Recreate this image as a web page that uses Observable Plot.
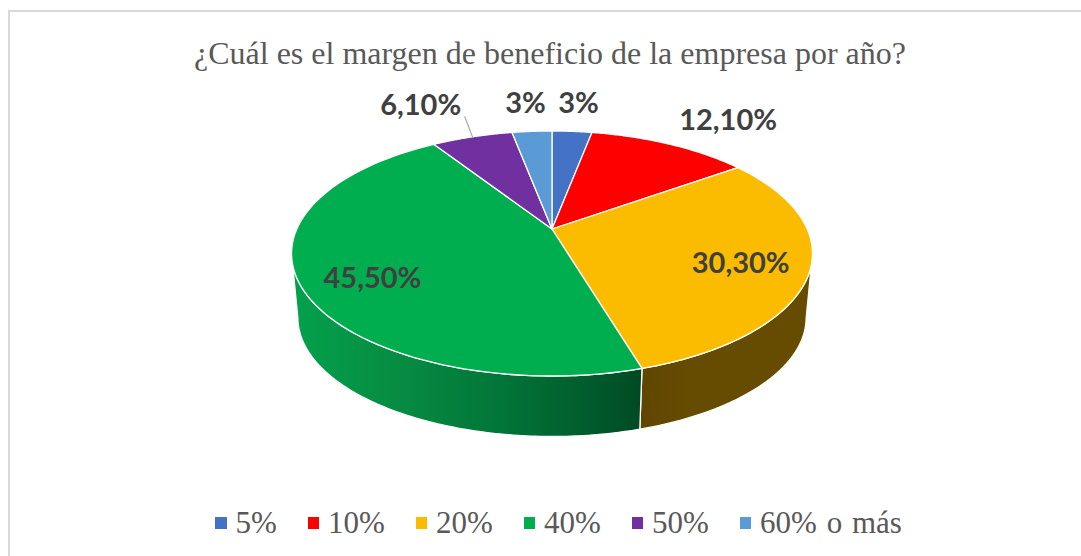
<!DOCTYPE html>
<html lang="es">
<head>
<meta charset="utf-8">
<script src="https://cdn.jsdelivr.net/npm/d3@7"></script>
<script src="https://cdn.jsdelivr.net/npm/@observablehq/plot@0.6"></script>
<style>
html,body{margin:0;padding:0;background:#fff;overflow:hidden}
#chart{position:relative;width:1081px;height:556px;overflow:hidden}
#frame{position:absolute;left:8px;top:10px;width:1090px;height:560px;border:2px solid #d9d9d9;box-sizing:border-box}
#title{position:absolute;left:0;top:35px;width:1100px;text-align:center;font:32px "Liberation Serif",serif;color:#595959;white-space:nowrap}
#legend{position:absolute;left:215px;top:505px;display:flex;gap:30.7px;font:31px "Liberation Serif",serif;word-spacing:2px;color:#595959;white-space:nowrap}
#legend span.i{display:flex;align-items:center;gap:9px}
#legend i{display:block;width:11.5px;height:11.5px}
svg{position:absolute;left:0;top:0}
</style>
</head>
<body>
<div id="chart">
<div id="frame"></div>
<div id="title"></div>
<div id="legend"></div>
</div>
<script>
const titleText = "¿Cuál es el margen de beneficio de la empresa por año?";
const categories = ["5%","10%","20%","40%","50%","60% o más"];
const values = [3,12.1,30.3,45.5,6.1,3];
const valueLabels = ["3%","12,10%","30,30%","45,50%","6,10%","3%"];
const colors = ["#4472c4","#ff0000","#fbbc00","#00ae4f","#7030a0","#5b9bd5"];

// picture geometry of the tilted disc
const view = {cx:552, top:{cy:229, rx:255.2, ry:117.6}, bottom:{cy:294, rx:249, ry:114}, k:0.2};
const labelOffsets = [[6,-28],[58,-24],[-70,-7],[73,-4],[-52,-32],[-7,-28]];
const leaderSlice = 4, leaderOffset = [-8,-21];

function project(a, plane){
  const u = -Math.cos(a), v = Math.sin(a), s = 1/(1 - view.k*u);
  return {x: view.cx + plane.rx*v*s, y: plane.cy + plane.ry*u*s, u};
}
const total = d3.sum(values);
const slices = [];
values.reduce((acc,v,i)=>{
  slices.push({i, cat:categories[i], a0:acc/total*2*Math.PI, a1:(acc+v)/total*2*Math.PI});
  return acc+v;
},0);
slices.forEach(s=>s.mid=(s.a0+s.a1)/2);

function arcAngles(s,n=80){return d3.range(n+1).map(j=>s.a0+(s.a1-s.a0)*j/n);}

const topPts = slices.flatMap(s=>arcAngles(s).map(a=>{
  const p=project(a,view.top);
  return {cat:s.cat,x:p.x,y:p.y,cx:view.cx,cy:view.top.cy};
}));
const sideOf = s=>arcAngles(s,200).filter(a=>-Math.cos(a)>=0.2).map(a=>{
  const t=project(a,view.top), b=project(a,view.bottom);
  return {cat:s.cat,x1:t.x,y1:t.y,x2:b.x,y2:b.y};
});
const sideFills = {"20%":"url(#sideBrown)","40%":"url(#sideGreen)"};
const sideMarks = slices.map(sideOf).map((pts,i)=>pts.length?Plot.area(pts,{
  x1:"x1",y1:"y1",x2:"x2",y2:"y2",
  fill:sideFills[categories[i]]||colors[i],
  stroke:"#fff",strokeWidth:1.3
}):null);

const labels = slices.map((s,i)=>{
  const p=project(s.mid,view.top);
  return {text:valueLabels[i],x:p.x+labelOffsets[i][0],y:p.y+labelOffsets[i][1]};
});
const lp = project(slices[leaderSlice].mid,view.top);
const leader = [{x1:lp.x,y1:lp.y,x2:lp.x+leaderOffset[0],y2:lp.y+leaderOffset[1]}];

function defs(){
  const ns="http://www.w3.org/2000/svg";
  const d=document.createElementNS(ns,"defs");
  const grad=(id,x1,x2,stops)=>{
    const g=document.createElementNS(ns,"linearGradient");
    g.setAttribute("id",id);g.setAttribute("gradientUnits","userSpaceOnUse");
    g.setAttribute("x1",x1);g.setAttribute("x2",x2);g.setAttribute("y1",0);g.setAttribute("y2",0);
    stops.forEach(([o,c])=>{const s=document.createElementNS(ns,"stop");s.setAttribute("offset",o);s.setAttribute("stop-color",c);g.appendChild(s);});
    d.appendChild(g);
  };
  grad("sideGreen",292,640,[[0,"#03a14c"],[0.3,"#078c42"],[0.6,"#027538"],[0.85,"#005c2c"],[1,"#004a23"]]);
  grad("sideBrown",640,812,[[0,"#5f4600"],[0.3,"#664c00"],[1,"#664c00"]]);
  return d;
}

const plot = Plot.plot({
  width:1081,height:556,margin:0,
  x:{domain:[0,1081],range:[0,1081],axis:null},
  y:{domain:[0,556],range:[0,556],axis:null},
  color:{domain:categories,range:colors},
  marks:[
    defs,
    ...sideMarks,
    Plot.area(topPts,{x1:"cx",y1:"cy",x2:"x",y2:"y",z:"cat",fill:"cat",stroke:"#fff",strokeWidth:1.3}),
    Plot.link(leader,{x1:"x1",y1:"y1",x2:"x2",y2:"y2",stroke:"#a6a6a6",strokeWidth:1.2}),
    Plot.text(labels,{x:"x",y:"y",text:"text",fill:"#404040",fontFamily:"Lato",fontWeight:"bold",fontSize:29})
  ]
});
document.getElementById("chart").appendChild(plot);
document.getElementById("title").textContent=titleText;
const lg=document.getElementById("legend");
categories.forEach((c,i)=>{
  const s=document.createElement("span");s.className="i";
  const k=document.createElement("i");k.style.background=colors[i];
  s.appendChild(k);s.appendChild(document.createTextNode(c));lg.appendChild(s);
});
</script>
</body>
</html>
